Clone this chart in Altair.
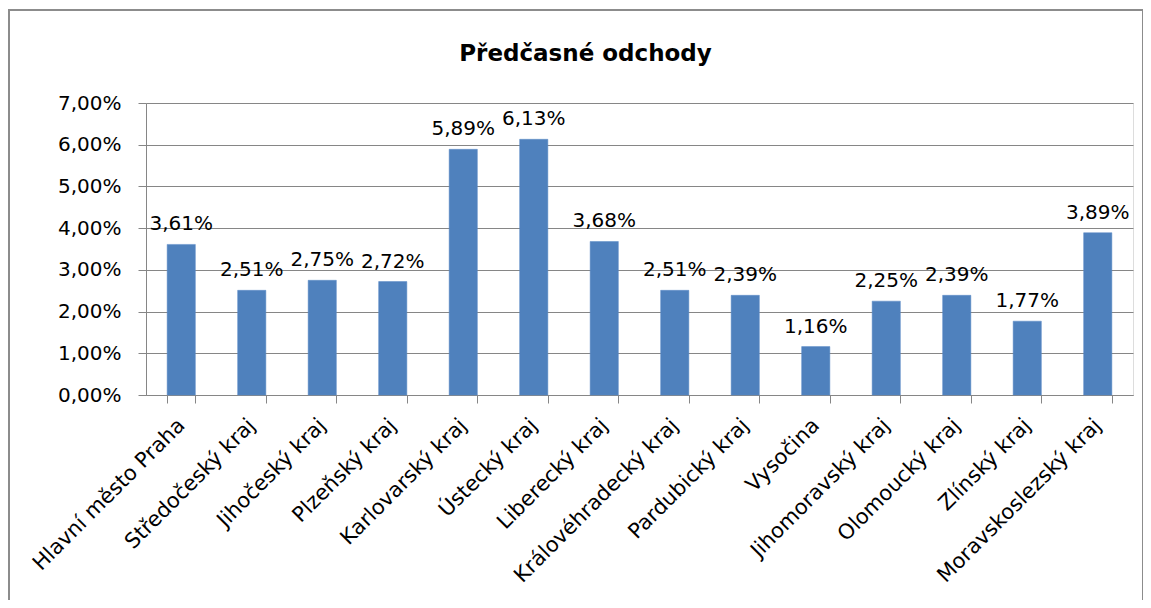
import altair as alt
import pandas as pd

regions = ["Hlavní město Praha", "Středočeský kraj", "Jihočeský kraj", "Plzeňský kraj",
           "Karlovarský kraj", "Ústecký kraj", "Liberecký kraj", "Královéhradecký kraj",
           "Pardubický kraj", "Vysočina", "Jihomoravský kraj", "Olomoucký kraj",
           "Zlínský kraj", "Moravskoslezský kraj"]
values = [0.0361, 0.0251, 0.0275, 0.0272, 0.0589, 0.0613, 0.0368, 0.0251,
          0.0239, 0.0116, 0.0225, 0.0239, 0.0177, 0.0389]
y_ticks = [0, 0.01, 0.02, 0.03, 0.04, 0.05, 0.06, 0.07]

df = pd.DataFrame({"region": regions, "value": values})

FONT = "DejaVu Sans"
GRID = "#868686"
W, H = 987, 292
PL, PT = 138, 95

x_enc = alt.X("region:N", sort=regions, title=None,
              scale=alt.Scale(paddingInner=0.6, paddingOuter=0.3),
              axis=alt.Axis(labelAngle=-45, labelAlign="right", labelBaseline="middle",
                            labelFont=FONT, labelFontSize=21, labelColor="#000000",
                            labelPadding=19, labelOverlap=False, labelLimit=400,
                            tickBand="extent", tickSize=8, tickColor=GRID,
                            domainColor=GRID, grid=False))
y_enc = alt.Y("value:Q", title=None,
              scale=alt.Scale(domain=[0, 0.07], nice=False),
              axis=alt.Axis(values=y_ticks, labelExpr="replace(format(datum.value, '.2%'), '.', ',')",
                            labelFont=FONT, labelFontSize=20, labelColor="#000000",
                            labelPadding=17, tickSize=8, tickColor=GRID,
                            domainColor=GRID, gridColor=GRID, gridOpacity=1))

bars = alt.Chart(df).mark_bar(color="#4F81BD", stroke="#5B8BC6", strokeWidth=0.5).encode(
    x=x_enc, y=y_enc)

labels = alt.Chart(df).transform_calculate(
    lab="replace(format(datum.value, '.2%'), '.', ',')"
).mark_text(font=FONT, fontSize=20, baseline="bottom", dy=-10, color="#000000").encode(
    x=alt.X("region:N", sort=regions), y="value:Q", text="lab:N")

frame = alt.Chart(df).mark_rect(fill=None, stroke="#8c8c8c", strokeWidth=1.5).encode(
    x=alt.value(-137), x2=alt.value(997), y=alt.value(-93), y2=alt.value(700))

chart = alt.layer(frame, bars, labels).properties(
    width=W, height=H,
    autosize=alt.AutoSizeParams(type="none"),
    padding={"left": PL, "top": PT, "right": 10, "bottom": 205},
    title=alt.TitleParams("Předčasné odchody", font=FONT, fontSize=23, fontWeight="bold",
                          color="#000000", anchor="middle", dx=-54, offset=-57),
).configure_view(stroke=None).configure(background="white")

chart.save("out.html", embed_options={"renderer": "svg", "actions": False})
